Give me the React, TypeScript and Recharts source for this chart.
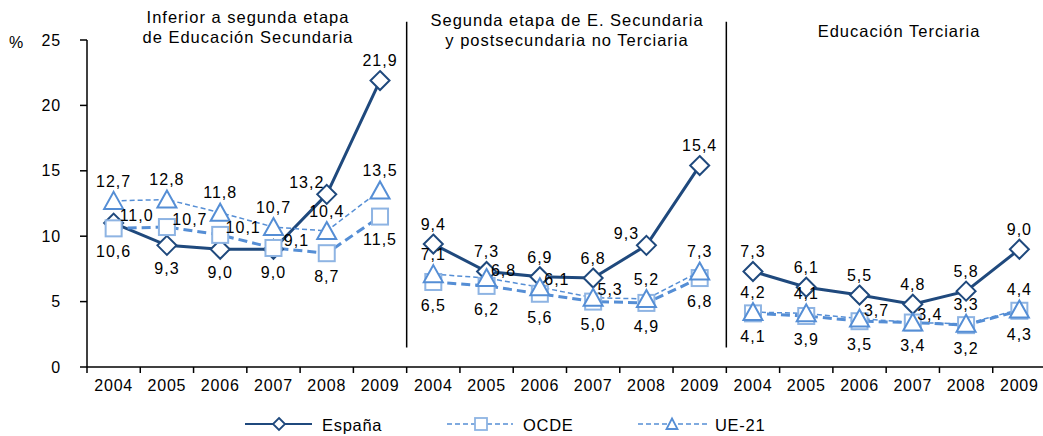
import { LineChart, Line, XAxis, YAxis, ReferenceLine, LabelList } from "recharts"

const years = ["2004", "2005", "2006", "2007", "2008", "2009"]
const yTicks = [0, 5, 10, 15, 20, 25]

// tasa de paro por nivel educativo (%)
const espanaInferior = [11.0, 9.3, 9.0, 9.0, 13.2, 21.9]
const espanaSegunda = [9.4, 7.3, 6.9, 6.8, 9.3, 15.4]
const espanaTerciaria = [7.3, 6.1, 5.5, 4.8, 5.8, 9.0]

const ocdeInferior = [10.6, 10.7, 10.1, 9.1, 8.7, 11.5]
const ocdeSegunda = [6.5, 6.2, 5.6, 5.0, 4.9, 6.8]
const ocdeTerciaria = [4.1, 3.9, 3.5, 3.4, 3.2, 4.3]

const ueInferior = [12.7, 12.8, 11.8, 10.7, 10.4, 13.5]
const ueSegunda = [7.1, 6.8, 6.1, 5.3, 5.2, 7.3]
const ueTerciaria = [4.2, 4.1, 3.7, 3.4, 3.3, 4.4]

const panels = [
  { esp: espanaInferior, ocde: ocdeInferior, ue: ueInferior },
  { esp: espanaSegunda, ocde: ocdeSegunda, ue: ueSegunda },
  { esp: espanaTerciaria, ocde: ocdeTerciaria, ue: ueTerciaria },
]

const data = panels.flatMap((p, pi) =>
  years.map((year, j) => ({
    x: pi * 6 + j + 0.5,
    year,
    [`esp${pi}`]: p.esp[j],
    [`ocde${pi}`]: p.ocde[j],
    [`ue${pi}`]: p.ue[j],
  }))
)

// where each data label sits relative to its marker
const labelPlacement: Record<string, string[]> = {
  esp0: ["right", "below", "below", "below", "upLeft", "above"],
  esp1: ["above", "above", "above", "above", "upLeft", "above"],
  esp2: ["above", "above", "above", "above", "above", "above"],
  ocde0: ["below", "right", "right", "right", "below", "below"],
  ocde1: ["below", "below", "below", "below", "below", "below"],
  ocde2: ["below", "below", "below", "below", "below", "below"],
  ue0: ["above", "above", "above", "above", "above", "above"],
  ue1: ["above", "right", "right", "right", "above", "above"],
  ue2: ["above", "above", "right", "right", "above", "above"],
}

const DARK = "#1F497D"
const LIGHT = "#558ED5"
const PALE = "#8EB4E3"
const FONT = "'Liberation Sans', Arial, sans-serif"

const fmt = (v: number) => v.toFixed(1).replace(".", ",")

const makeLabel = (key: string, rightDx: number) => (props: any) => {
  const { x, y, value, index } = props
  if (value == null || x == null || y == null) return null
  const pos = labelPlacement[key][(index ?? 0) % 6]
  let dx = 0
  let dy = 0
  if (pos === "above") dy = -20
  else if (pos === "below") dy = 23
  else if (pos === "right") {
    dx = rightDx
    dy = -8
  } else if (pos === "upLeft") {
    dx = -20
    dy = -12
  }
  return (
    <text
      x={x + dx}
      y={y + dy}
      dy="0.36em"
      textAnchor="middle"
      fontSize={16}
      letterSpacing={1}
      fontFamily={FONT}
      fill="#000"
    >
      {fmt(value)}
    </text>
  )
}

const diamondDot = (p: any) => {
  if (p.cy == null || p.value == null) return <g key={p.index} />
  const { cx, cy } = p
  return (
    <path
      key={p.index}
      d={`M${cx},${cy - 9.5}L${cx + 9.5},${cy}L${cx},${cy + 9.5}L${cx - 9.5},${cy}Z`}
      fill="#fff"
      stroke={DARK}
      strokeWidth={2}
    />
  )
}

const squareDot = (p: any) => {
  if (p.cy == null || p.value == null) return <g key={p.index} />
  return <rect key={p.index} x={p.cx - 8} y={p.cy - 8} width={16} height={16} fill="#fff" stroke={PALE} strokeWidth={2} />
}

const triangleDot = (p: any) => {
  if (p.cy == null || p.value == null) return <g key={p.index} />
  const { cx, cy } = p
  return (
    <path
      key={p.index}
      d={`M${cx},${cy - 9}L${cx + 9.5},${cy + 8}L${cx - 9.5},${cy + 8}Z`}
      fill="#fff"
      stroke={LIGHT}
      strokeWidth={2}
    />
  )
}

const xTicks = Array.from({ length: 37 }, (_, i) => i / 2)

const XTick = (props: any) => {
  const { x, y, payload } = props
  const v = payload.value
  if (Number.isInteger(v)) {
    return <line x1={x} x2={x} y1={y} y2={y + 6} stroke="#000" strokeWidth={1.5} />
  }
  return (
    <text x={x} y={y + 24} textAnchor="middle" fontSize={16} letterSpacing={0.8} fontFamily={FONT} fill="#000">
      {years[Math.floor(v) % 6]}
    </text>
  )
}

const titles = [
  { lines: ["Inferior a segunda etapa", "de Educación Secundaria"], cx: 248, top: 7 },
  { lines: ["Segunda etapa de E. Secundaria", "y postsecundaria no Terciaria"], cx: 567, top: 10 },
  { lines: ["Educación Terciaria"], cx: 899, top: 21 },
]

function LegendOverlay() {
  const textProps = { fontSize: 16.5, letterSpacing: 0.7, fontFamily: FONT, fill: "#000", y: 23 }
  return (
    <svg width={1043} height={30} style={{ position: "absolute", left: 0, top: 408 }}>
      <g>
        <line x1={245} x2={312} y1={16} y2={16} stroke={DARK} strokeWidth={2} />
        <path d="M279,10L285,16L279,22L273,16Z" fill="#fff" stroke={DARK} strokeWidth={1.8} />
        <text x={322} {...textProps}>España</text>
      </g>
      <g>
        <line x1={447} x2={513} y1={16} y2={16} stroke={LIGHT} strokeWidth={1.5} strokeDasharray="5 3" />
        <rect x={475} y={10} width={12} height={12} fill="#fff" stroke={PALE} strokeWidth={1.8} />
        <text x={523} {...textProps}>OCDE</text>
      </g>
      <g>
        <line x1={638} x2={708} y1={16} y2={16} stroke={LIGHT} strokeWidth={1.5} strokeDasharray="5 3" />
        <path d="M672,10.5L677.5,21L666.5,21Z" fill="#fff" stroke={LIGHT} strokeWidth={1.8} />
        <text x={715} {...textProps}>UE-21</text>
      </g>
    </svg>
  )
}

export default function App() {
  return (
    <div style={{ position: "absolute", left: 0, top: 0, width: 1043, height: 436, background: "#fff", fontFamily: FONT }}>
      <LineChart width={1043} height={436} data={data} margin={{ top: 40, right: -3, bottom: 39, left: 0 }}>
        <XAxis
          dataKey="x"
          type="number"
          domain={[0, 18]}
          ticks={xTicks}
          interval={0}
          tick={<XTick />}
          tickLine={false}
          tickSize={0}
          tickMargin={0}
          height={30}
          axisLine={{ stroke: "#000", strokeWidth: 1.5 }}
        />
        <YAxis
          domain={[0, 25]}
          ticks={yTicks}
          width={87}
          tickSize={7}
          tickMargin={19}
          tick={{ fill: "#000", fontSize: 16, fontFamily: FONT, letterSpacing: 0.8 }}
          tickLine={{ stroke: "#000", strokeWidth: 1.5 }}
          axisLine={{ stroke: "#000", strokeWidth: 1.5 }}
        />
        <ReferenceLine segment={[{ x: 6, y: 1.5 }, { x: 6, y: 26.4 }]} stroke="#000" strokeWidth={1.5} ifOverflow="visible" />
        <ReferenceLine segment={[{ x: 12, y: 1.5 }, { x: 12, y: 26.4 }]} stroke="#000" strokeWidth={1.5} ifOverflow="visible" />
        {[0, 1, 2].map((pi) => (
          <Line
            key={`esp${pi}`}
            dataKey={`esp${pi}`}
            stroke={DARK}
            strokeWidth={3}
            dot={diamondDot}
            activeDot={false}
            isAnimationActive={false}
          >
            <LabelList dataKey={`esp${pi}`} content={makeLabel(`esp${pi}`, 23)} />
          </Line>
        ))}
        {[0, 1, 2].map((pi) => (
          <Line
            key={`ocde${pi}`}
            dataKey={`ocde${pi}`}
            stroke={LIGHT}
            strokeWidth={3}
            strokeDasharray="9 5"
            dot={squareDot}
            activeDot={false}
            isAnimationActive={false}
          >
            <LabelList dataKey={`ocde${pi}`} content={makeLabel(`ocde${pi}`, 23)} />
          </Line>
        ))}
        {[0, 1, 2].map((pi) => (
          <Line
            key={`ue${pi}`}
            dataKey={`ue${pi}`}
            stroke={LIGHT}
            strokeWidth={1.5}
            strokeDasharray="5 3"
            dot={triangleDot}
            activeDot={false}
            isAnimationActive={false}
          >
            <LabelList dataKey={`ue${pi}`} content={makeLabel(`ue${pi}`, 17)} />
          </Line>
        ))}
      </LineChart>
      <div style={{ position: "absolute", left: 9, top: 33, fontSize: 16, lineHeight: "20px" }}>%</div>
      {titles.map((t) => (
        <div
          key={t.cx}
          style={{
            position: "absolute",
            left: t.cx,
            top: t.top,
            transform: "translateX(-50%)",
            textAlign: "center",
            whiteSpace: "nowrap",
            fontSize: 16.5,
            letterSpacing: 1,
            lineHeight: "20px",
          }}
        >
          {t.lines.map((l) => (
            <div key={l}>{l}</div>
          ))}
        </div>
      ))}
      <LegendOverlay />
    </div>
  )
}
